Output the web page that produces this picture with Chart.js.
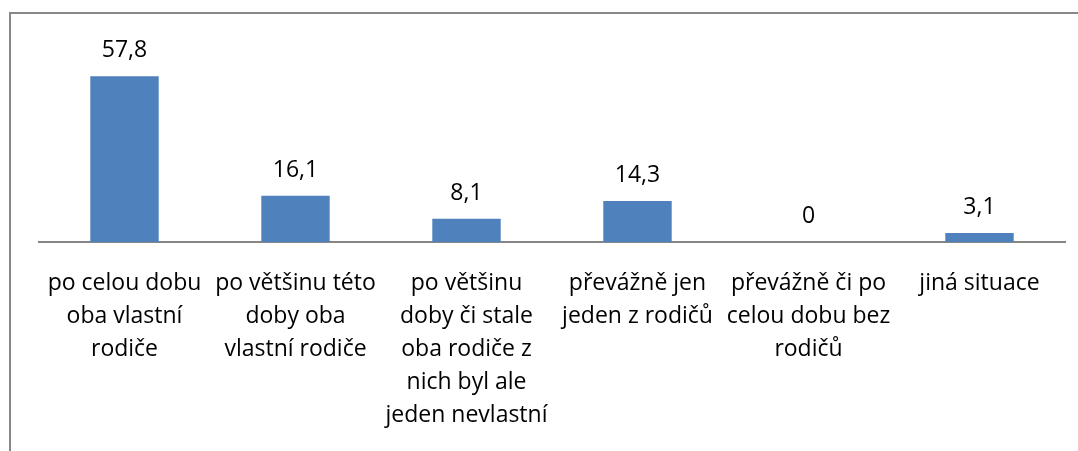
<!DOCTYPE html>
<html>
<head>
<meta charset="utf-8">
<script src="https://cdn.jsdelivr.net/npm/chart.js@4"></script>
<style>
  html, body { margin: 0; padding: 0; background: #fff; }
  #wrap { position: relative; width: 1078px; height: 451px; overflow: hidden; }
  #frame { position: absolute; left: 9px; top: 12px; width: 1200px; height: 600px; border: 2px solid #888888; box-sizing: border-box; }
  canvas { position: absolute; left: 0; top: 0; }
</style>
</head>
<body>
<div id="wrap">
  <div id="frame"></div>
  <canvas id="c" width="1078" height="451"></canvas>
</div>
<script>
const categories = [
  ["po celou dobu", "oba vlastní", "rodiče"],
  ["po většinu této", "doby oba", "vlastní rodiče"],
  ["po většinu", "doby či stale", "oba rodiče z", "nich byl ale", "jeden nevlastní"],
  ["převážně jen", "jeden z rodičů"],
  ["převážně či po", "celou dobu bez", "rodičů"],
  ["jiná situace"]
];
const values = [57.8, 16.1, 8.1, 14.3, 0, 3.1];

const FONT = "'Open Sans', sans-serif";

const valueLabels = {
  id: 'valueLabels',
  afterDatasetsDraw(chart) {
    const ctx = chart.ctx;
    const meta = chart.getDatasetMeta(0);
    ctx.save();
    ctx.font = "23px " + FONT;
    ctx.fillStyle = "#000";
    ctx.textAlign = "center";
    ctx.textBaseline = "alphabetic";
    meta.data.forEach((bar, i) => {
      const txt = String(values[i]).replace('.', ',');
      ctx.fillText(txt, bar.x, bar.y - 19);
    });
    ctx.restore();
  }
};

new Chart(document.getElementById('c'), {
  type: 'bar',
  data: {
    labels: categories,
    datasets: [{
      data: values,
      backgroundColor: '#4F81BD',
      borderWidth: 0,
      barPercentage: 0.4,
      categoryPercentage: 1.0
    }]
  },
  options: {
    responsive: false,
    animation: false,
    devicePixelRatio: 1,
    layout: { padding: { left: 39, right: 13, top: 70, bottom: 0 } },
    plugins: { legend: { display: false }, tooltip: { enabled: false } },
    scales: {
      y: { display: false, min: 0, max: 60 },
      x: {
        grid: { display: false, drawTicks: false },
        border: { display: true, color: '#868686', width: 2 },
        ticks: {
          color: '#000',
          font: { family: FONT, size: 23, lineHeight: 33 / 23 },
          padding: 25,
          maxRotation: 0,
          autoSkip: false
        },
        afterFit(scale) { scale.height = 209; }
      }
    }
  },
  plugins: [valueLabels]
});
</script>
</body>
</html>
